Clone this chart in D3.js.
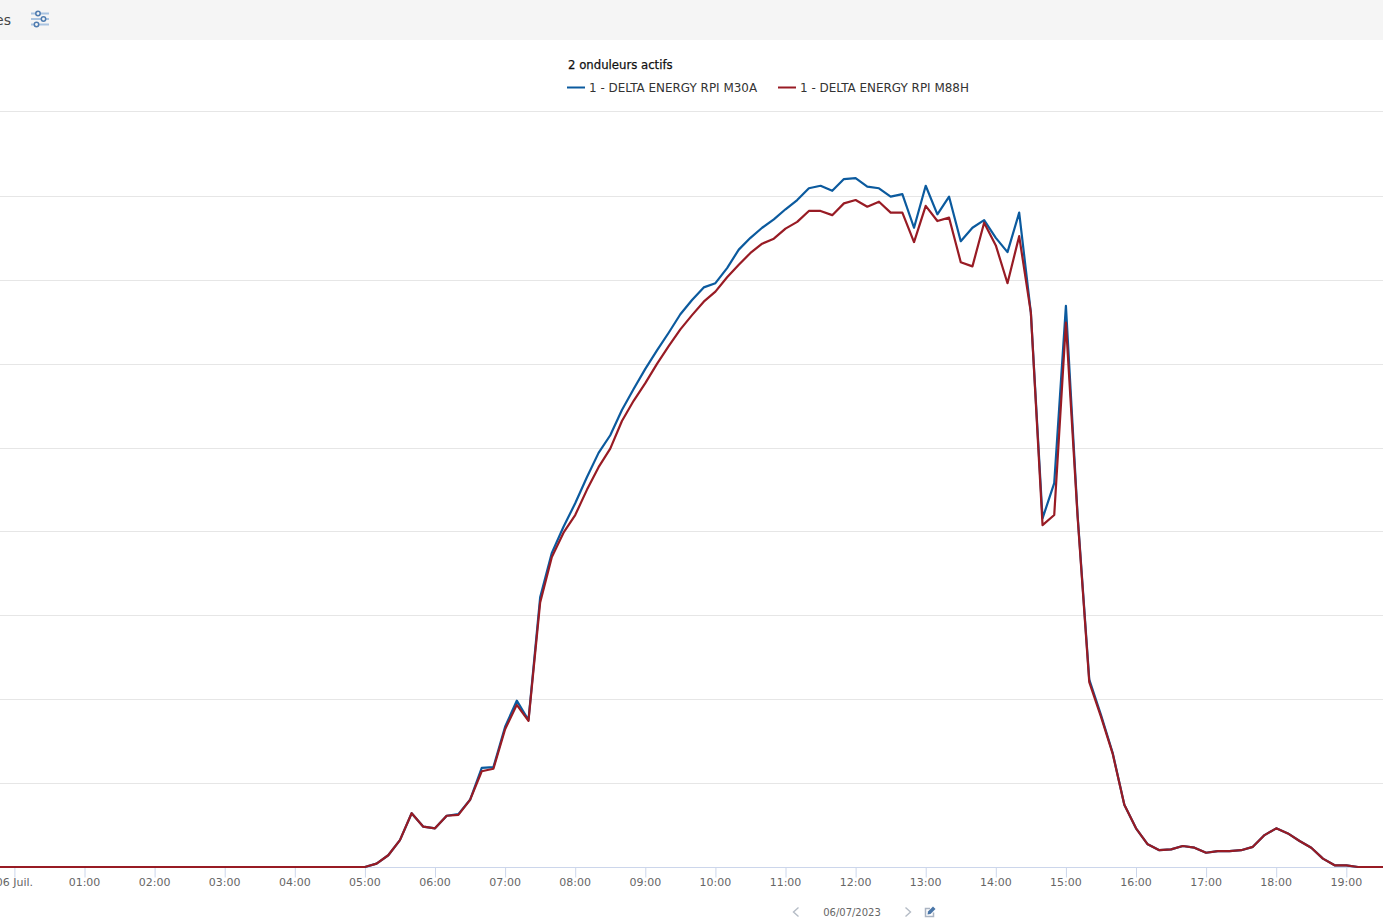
<!DOCTYPE html>
<html><head><meta charset="utf-8">
<script src="https://cdn.jsdelivr.net/npm/d3@7"></script>
<style>html,body{margin:0;padding:0;background:#fff;overflow:hidden}svg{display:block}text{font-family:"DejaVu Sans",sans-serif}</style>
</head><body><svg id="c" width="1383" height="924"></svg>
<script>
const legendTitle = "2 onduleurs actifs";
const seriesNames = ["1 - DELTA ENERGY RPI M30A", "1 - DELTA ENERGY RPI M88H"];
const seriesColors = ["#0b5a9e", "#981b24"];
const dateLabel = "06/07/2023";
const firstDayLabel = "06 Juil.";
const yTicks = [10,20,30,40,49.9,59.9,69.9,79.9,90];
const stepMinutes = 10, startMinutes = -20;
const night = [0,0,0,0,0,0,0,0,0,0,0,0,0,0,0,0,0,0,0,0,0,0,0,0,0,0,0,0,0,0,0,0];
const m30a = [0,.4,1.4,3.2,6.4,4.8,4.6,6.1,6.3,8.0,11.8,11.9,16.7,19.8,17.5,32.1,37.4,40.5,43.3,46.4,49.3,51.4,54.4,56.9,59.3,61.5,63.6,65.8,67.5,69.0,69.5,71.3,73.5,74.9,76.1,77.1,78.3,79.4,80.8,81.1,80.5,81.9,82.0,81.0,80.8,79.8,80.1,76.1,81.1,77.7,79.8,74.5,76.1,77.0,74.9,73.2,77.9,66.0,41.5,45.7,66.8,41.9,22.3,18.1,13.6,7.4,4.6,2.7,2.0,2.1,2.5,2.3,1.7,1.9,1.9,2.0,2.4,3.8,4.6,4.0,3.1,2.3,1.0,.2,.2,0,0,0,0];
const m88h = [0,.4,1.4,3.2,6.4,4.8,4.6,6.1,6.2,8.0,11.4,11.7,16.4,19.3,17.4,31.5,36.9,39.8,41.9,44.9,47.6,49.8,53.1,55.5,57.6,59.9,62.0,64.0,65.7,67.3,68.5,70.2,71.7,73.1,74.2,74.8,76.0,76.8,78.1,78.1,77.6,79.0,79.4,78.6,79.2,77.9,77.9,74.4,78.7,76.9,77.3,72.0,71.5,76.7,74.0,69.5,75.1,66.0,40.7,41.9,64.8,41.7,22.0,17.9,13.5,7.4,4.6,2.7,2.0,2.1,2.5,2.3,1.7,1.9,1.9,2.0,2.4,3.8,4.6,4.0,3.1,2.3,1.0,.2,.2,0,0,0,0];

const allSeries = [night.concat(m30a), night.concat(m88h)];
const svg = d3.select("#c");
const t0 = Date.UTC(2023,6,6);
const min = m => new Date(t0 + m*60000);
const x = d3.scaleUtc().domain([min(-12.33), min(1171.4)]).range([0,1383]);
const y = d3.scaleLinear().domain([0,90]).range([867,111]);

// top toolbar
svg.append("rect").attr("x",0).attr("y",0).attr("width",1383).attr("height",40).attr("fill","#f5f5f5");
svg.append("text").attr("x",11).attr("y",25).attr("text-anchor","end").attr("font-size",14).attr("fill","#444").text("es");
const icon = svg.append("g").attr("transform","translate(30,11)");
[{ly:2.5,cx:8},{ly:8,cx:13.5},{ly:13.5,cx:6.5}].forEach(d => {
  icon.append("line").attr("x1",1).attr("x2",19).attr("y1",d.ly).attr("y2",d.ly).attr("stroke","#a9c3e0").attr("stroke-width",2);
  icon.append("circle").attr("cx",d.cx).attr("cy",d.ly).attr("r",2.2).attr("fill","#f5f5f5").attr("stroke","#4f7cb0").attr("stroke-width",1.5);
});

// grid
svg.append("g").selectAll("line").data(yTicks).join("line")
  .attr("x1",0).attr("x2",1383).attr("y1",d=>Math.round(y(d))+.5).attr("y2",d=>Math.round(y(d))+.5)
  .attr("stroke","#e6e6e6");

// x axis
const ticks = x.ticks(d3.utcHour.every(1));
const axis = d3.axisBottom(x).tickValues(ticks).tickSize(10).tickPadding(0)
  .tickFormat(d => d.getTime()===t0 ? firstDayLabel : d3.utcFormat("%H:%M")(d));
const ax = svg.append("g").attr("transform","translate(0,867.5)").call(axis);
ax.select(".domain").attr("stroke","#ccd6eb").attr("d","M0,0H1383");
ax.selectAll(".tick line").attr("stroke","#ccd6eb");
ax.selectAll(".tick text").attr("fill","#666").attr("font-size",11).attr("x",-0.5).attr("y",18.5).attr("dy",0);

// lines
const line = d3.line().x((d,i)=>x(min(startMinutes+i*stepMinutes))).y(d=>y(d));
svg.append("g").selectAll("path").data(allSeries).join("path")
  .attr("d",line).attr("fill","none").attr("stroke",(d,i)=>seriesColors[i])
  .attr("stroke-width",2.2).attr("stroke-linejoin","round");

// legend
svg.append("text").attr("x",568).attr("y",69).attr("font-size",11.7).attr("fill","#111").attr("stroke","#111").attr("stroke-width",.25).text(legendTitle);
[[567,589],[778,800]].forEach(([lx,tx],i)=>{
  svg.append("line").attr("x1",lx).attr("x2",lx+18).attr("y1",87.5).attr("y2",87.5).attr("stroke",seriesColors[i]).attr("stroke-width",2);
  svg.append("text").attr("x",tx).attr("y",92).attr("font-size",11.95).attr("fill","#333").text(seriesNames[i]);
});

// date navigator
const chev = (cx,dir)=>svg.append("path").attr("d",`M${cx+2.5*dir*-1},907.5 L${cx+2.5*dir},912 L${cx+2.5*dir*-1},916.5`).attr("fill","none").attr("stroke","#b5bcc6").attr("stroke-width",1.4);
chev(796,-1); chev(908,1);
svg.append("text").attr("x",852).attr("y",916).attr("text-anchor","middle").attr("font-size",10).attr("fill","#666").text(dateLabel);
const ed = svg.append("g").attr("transform","translate(924,906)");
ed.append("path").attr("d","M6,2.5H1.5V10.5H9.5V6.5").attr("fill","none").attr("stroke","#aab4c2").attr("stroke-width",1.5);
ed.append("path").attr("d","M3.5,8.5L4,5.5L9,0.5L11.5,3L6.5,8Z").attr("fill","#4a76a8");
</script></body></html>
